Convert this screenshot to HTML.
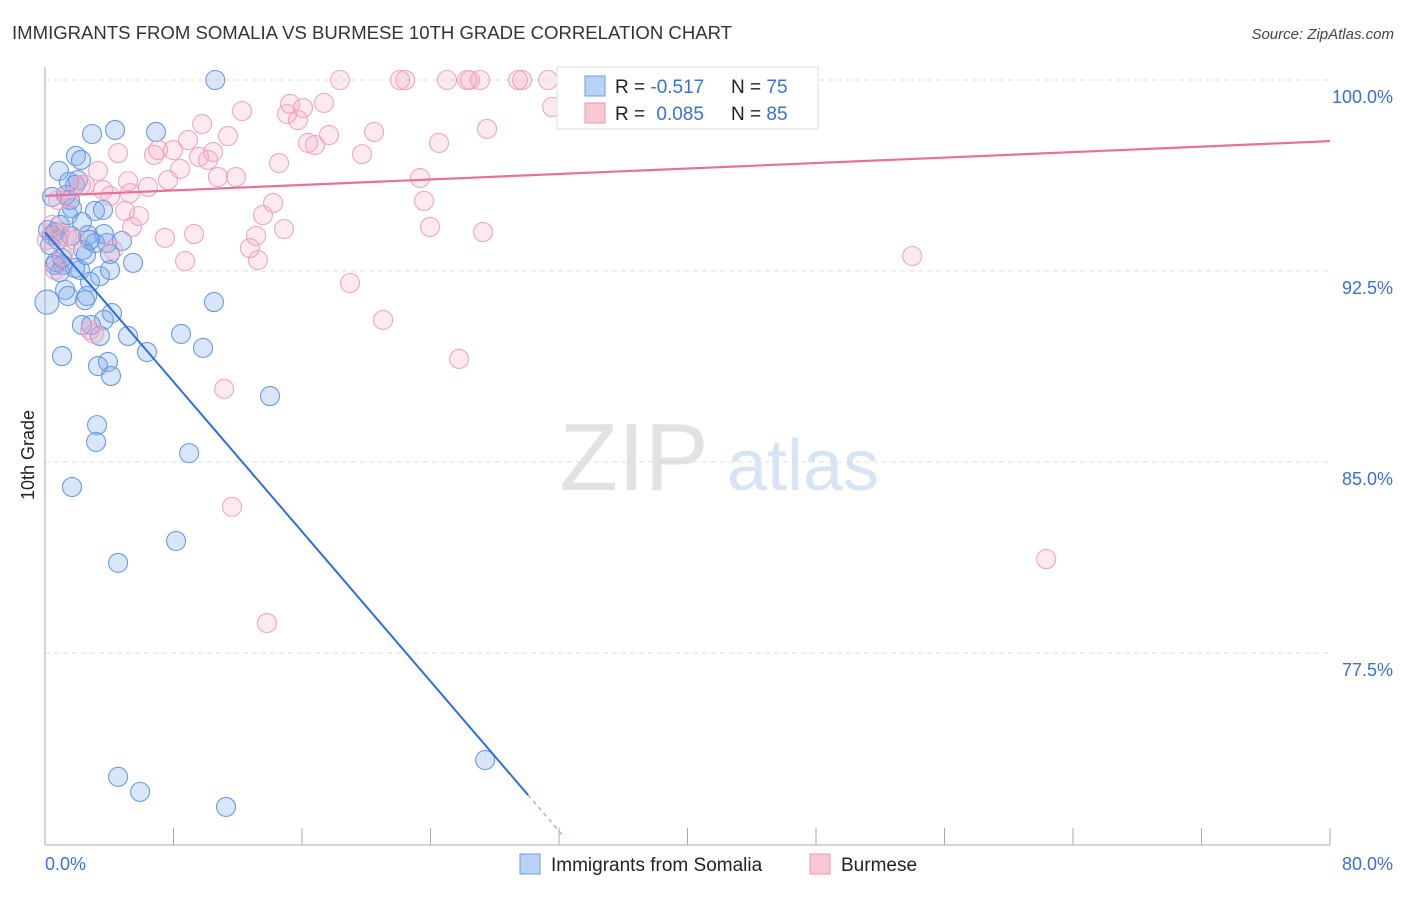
<!DOCTYPE html>
<html><head><meta charset="utf-8"><style>
body{margin:0;background:#fff;font-family:"Liberation Sans",sans-serif}
svg text{font-family:"Liberation Sans",sans-serif}
</style></head><body>
<svg id="chart" width="1406" height="892" viewBox="0 0 1406 892" xmlns="http://www.w3.org/2000/svg">
<text x="12" y="39" font-size="18" fill="#333" textLength="720" lengthAdjust="spacingAndGlyphs">IMMIGRANTS FROM SOMALIA VS BURMESE 10TH GRADE CORRELATION CHART</text>
<text x="1394" y="39" font-size="15" fill="#444" text-anchor="end" font-style="italic">Source: ZipAtlas.com</text>
<g>
<text x="634" y="490" font-size="96" fill="#e2e2e2" text-anchor="middle" font-family="Liberation Serif">ZIP</text>
<text x="803" y="490" font-size="72" fill="#d6e4f6" text-anchor="middle">atlas</text>
</g>
<g id="grid"></g>
<g id="axes"></g>
<g id="pts"></g>
<g id="trend"></g>
<text transform="translate(34,455) rotate(-90)" font-size="18" fill="#222" text-anchor="middle">10th Grade</text>
<text x="45" y="870" font-size="18" fill="#3a6fd8">0.0%</text>
<text x="1393" y="870" font-size="18" fill="#3a6fd8" text-anchor="end">80.0%</text>
<g>
<rect x="557" y="67" width="261" height="62" fill="#fff" stroke="#ddd"/>
<rect x="585" y="76" width="20" height="20" fill="#b9d2f5" stroke="#6a9be6"/>
<rect x="585" y="103" width="20" height="20" fill="#f9c6d4" stroke="#ee97b1"/>
<text x="615" y="93" font-size="19" fill="#222">R = <tspan fill="#3a6fd8">-0.517</tspan></text>
<text x="731" y="93" font-size="19" fill="#222">N = <tspan fill="#3a6fd8">75</tspan></text>
<text x="615" y="120" font-size="19" fill="#222">R = <tspan fill="#3a6fd8" dx="6">0.085</tspan></text>
<text x="731" y="120" font-size="19" fill="#222">N = <tspan fill="#3a6fd8">85</tspan></text>
</g>
<g>
<rect x="520" y="854" width="20" height="20" fill="#b9d2f5" stroke="#6a9be6"/>
<text x="551" y="871" font-size="19" fill="#222">Immigrants from Somalia</text>
<rect x="810" y="854" width="20" height="20" fill="#f9c6d4" stroke="#ee97b1"/>
<text x="841" y="871" font-size="19" fill="#222">Burmese</text>
</g>
</svg>
<script>
const yTicks=[100,92.5,85,77.5];
const yTickLabels=["100.0%","92.5%","85.0%","77.5%"];
const xTicks=[0,8,16,24,32,40,48,56,64,72,80];
const somaliaX=[10.6,2.93,4.36,6.91,1.93,2.24,0.87,1.49,2.05,1.31,0.44,1.68,3.11,3.61,2.30,0.19,0.62,2.68,3.67,4.79,3.11,3.86,2.37,4.05,0.68,1.12,5.48,1.87,2.18,4.05,0.93,3.42,2.80,1.25,1.43,2.62,0.12,10.52,4.17,3.67,2.30,2.86,5.17,3.42,8.47,1.06,6.35,9.84,3.30,3.92,4.11,14.01,3.24,3.18,8.97,1.68,8.16,4.55,4.55,5.92,11.27,27.4,0.44,0.81,1.56,1.43,2.55,1.06,0.31,0.93,1.87,2.80,1.62,0.62,2.49];
const somaliaY=[100,97.88,98.04,97.96,97.02,96.86,96.43,96.0,96.07,95.49,95.41,94.97,94.86,94.9,94.42,94.11,94.03,93.91,93.95,93.68,93.6,93.6,93.33,93.17,92.85,92.74,92.82,92.62,92.54,92.54,92.46,92.3,92.07,91.76,91.52,91.52,91.28,91.28,90.85,90.58,90.38,90.38,89.95,89.95,90.03,89.16,89.32,89.48,88.77,88.93,88.38,87.59,86.45,85.79,85.35,84.02,81.9,81.04,72.64,72.05,71.46,73.3,93.91,93.72,95.29,94.7,93.13,93.01,93.52,94.31,95.88,93.72,93.88,92.74,91.36];
const burmeseX=[18.37,22.1,22.42,25.03,26.28,26.46,27.09,29.45,29.7,31.32,37.67,12.27,15.26,17.37,16.06,15.07,15.75,20.49,27.52,31.57,46.45,9.78,11.39,8.9,16.81,16.38,17.68,19.74,24.53,4.55,6.79,7.04,7.97,10.46,9.59,10.15,14.57,3.3,5.17,7.66,8.41,10.77,11.89,23.35,2.24,3.61,6.41,5.29,1.43,4.05,14.2,23.6,4.98,5.85,13.57,5.42,14.88,13.14,23.97,27.27,7.47,9.28,0.93,1.37,12.76,13.26,8.72,18.99,21.05,3.05,25.78,11.15,11.64,13.82,53.99,62.33,0.44,0.62,1.12,1.87,2.49,0.12,0.81,2.8,4.23];
const burmeseY=[100,100,100,100,100,100,100,100,100,100,100,98.78,99.06,99.1,98.9,98.67,98.43,97.96,98.08,98.94,98.82,98.27,97.8,97.64,97.45,97.53,97.84,97.09,97.53,97.13,97.06,97.25,97.25,97.17,96.98,96.86,96.74,96.43,96.03,96.07,96.51,96.19,96.19,96.15,95.88,95.68,95.8,95.56,95.37,95.45,95.17,95.25,94.86,94.66,94.7,94.23,94.15,93.88,94.23,94.03,93.8,93.95,93.99,93.88,93.4,92.93,92.89,92.03,90.58,90.03,89.05,87.87,83.24,78.68,93.09,81.19,94.31,92.54,93.13,93.72,95.88,93.72,95.29,90.18,93.33];
const somaliaTrend=[0,94.03,30.07,71.93,32.3];
const burmeseTrend=[0,95.45,80,97.6];
const NS="http://www.w3.org/2000/svg";
const X=v=>45+v*(1330-45)/80;
const Y=v=>80+(100-v)*25.47;
function mk(tag,attrs,parent){const e=document.createElementNS(NS,tag);for(const k in attrs)e.setAttribute(k,attrs[k]);parent.appendChild(e);return e;}
const grid=document.getElementById('grid'),axes=document.getElementById('axes'),pts=document.getElementById('pts'),tr=document.getElementById('trend');
yTicks.forEach((t,i)=>{
 const l=mk('line',{x1:45,x2:1330,y1:Y(t),y2:Y(t),stroke:'#ddd','stroke-dasharray':'5,4'},grid);
 
 
 const tx=mk('text',{x:1393,y:Y(t)+23,'font-size':18,fill:'#3a6fd8','text-anchor':'end'},grid);
 tx.textContent=yTickLabels[i];
 
 
});
const ya=mk('line',{x1:45,x2:45,y1:67,y2:845,stroke:'#aaa'},axes);


const xa=mk('line',{x1:45,x2:1330,y1:845,y2:845,stroke:'#aaa'},axes);


xTicks.forEach(t=>{
 const l=mk('line',{x1:X(t),x2:X(t),y1:828,y2:845,stroke:'#aaa'},axes);
 
 
});
somaliaX.forEach((x,i)=>{
 const c=mk('circle',{cx:X(x),cy:Y(somaliaY[i]),r:(x<0.2&&somaliaY[i]<91.5)?12:9.5,fill:'rgba(120,165,235,0.28)',stroke:'#6b9ae2','stroke-width':1.1},pts);
 
 
});
burmeseX.forEach((x,i)=>{
 const c=mk('circle',{cx:X(x),cy:Y(burmeseY[i]),r:9.5,fill:'rgba(245,160,188,0.22)',stroke:'#efa6bd','stroke-width':1.1},pts);
 
 
});
const s=somaliaTrend;
const sl=(s[3]-s[1])/(s[2]-s[0]);
const t1=mk('line',{x1:X(s[0]),y1:Y(s[1]),x2:X(s[2]),y2:Y(s[3]),stroke:'#2f6fd6','stroke-width':2},tr);


const t2=mk('line',{x1:X(s[2]),y1:Y(s[3]),x2:X(s[4]),y2:Y(s[1]+sl*s[4]),stroke:'#9bb8e8','stroke-width':1.5,'stroke-dasharray':'4,4'},tr);


const b=burmeseTrend;
const t3=mk('line',{x1:X(b[0]),y1:Y(b[1]),x2:X(b[2]),y2:Y(b[3]),stroke:'#e8709a','stroke-width':2.2},tr);


</script>
</body></html>
